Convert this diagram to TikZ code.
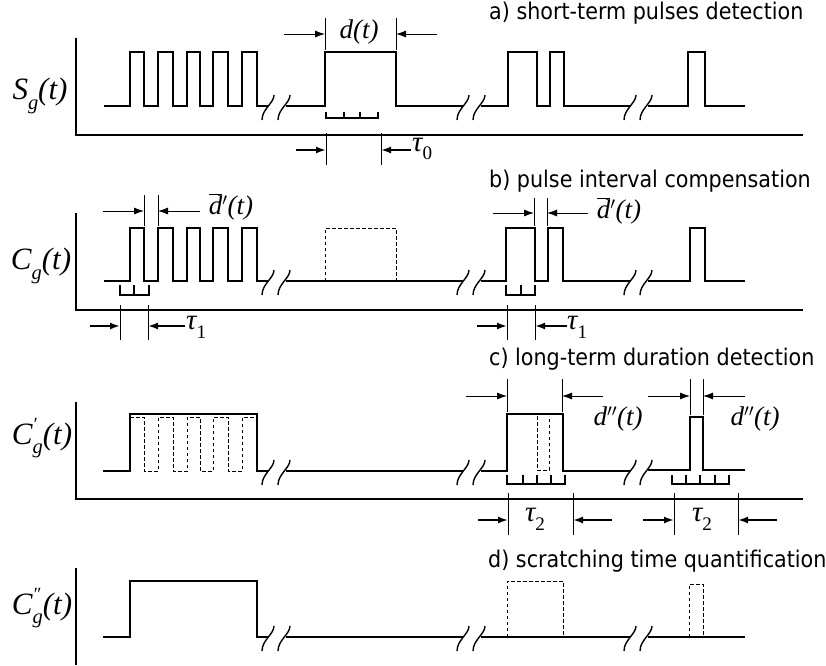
\documentclass[tikz,border=0pt]{standalone}
\usepackage{fontspec}
\newfontfamily\tnr{Liberation Serif}
\newfontfamily\tah{DejaVu Sans Condensed}
\usetikzlibrary{arrows.meta}
\newcommand\lowsub[1]{\raisebox{-0.3em}{\scalebox{0.66}{#1}}}
\newcommand\hisup[1]{\rlap{\raisebox{0.45em}{\scalebox{0.6}{#1}}}}
\newcommand\dbar{$\overline{\mbox{d}}$}
\begin{document}
\begin{tikzpicture}[x=1pt,y=-1pt,
 sig/.style={line width=1.8pt, line join=miter},
 ax/.style={line width=1.2pt},
 dsh/.style={line width=0.9pt, dash pattern=on 3.5pt off 2.5pt},
 comb/.style={line width=1.5pt},
 dimv/.style={line width=0.9pt},
 dimA/.style={line width=0.9pt, -{Latex[length=10pt,width=7pt]}},
 dimB/.style={line width=1.8pt, -{Latex[length=10pt,width=7pt]}},
 title/.style={font=\tah\fontsize{23}{23}\selectfont, anchor=base west, inner sep=0pt},
 ylab/.style={font=\tnr\itshape\fontsize{31}{31}\selectfont, inner sep=0pt},
 dlab/.style={font=\tnr\itshape\fontsize{27}{27}\selectfont, inner sep=0pt},
 tlab/.style={font=\tnr\itshape\fontsize{29}{29}\selectfont, inner sep=0pt, anchor=west},
 brk/.pic={\draw[line width=1.4pt] (12,-11) .. controls (12,-3) and (0,3) .. (0,14);
           \draw[line width=1.4pt] (28,-11) .. controls (28,-3) and (16,3) .. (16,14);}
]
\useasboundingbox (0,0) rectangle (826,665);

% ---------------- panel a
\draw[ax] (76,38) -- (76,135) -- (803,135);
\node[ylab] (la) at (40,96) {S\lowsub{g}(t)};
\node[title] (ta) at (489,19) {a) short-term pulses detection};
\draw[sig] (104,106) -| (130,52) -| (144,106) -| (158,52) -| (173,106) -| (187,52) -| (200,106) -| (213,52) -| (228,106) -| (242,52) -| (257,106) -- (268,106);
\draw[sig] (286,106) -| (325,52) -| (396,106) -- (463,106);
\draw[sig] (481,106) -| (508,52) -| (537,106) -| (550,52) -| (564,106) -- (630,106);
\draw[sig] (648,106) -| (688,52) -| (705,106) -- (745,106);
\pic at (262,106) {brk};
\pic at (457,106) {brk};
\pic at (624,106) {brk};
\draw[comb] (326,112) -- (326,118) -- (378,118) -- (378,112) (344,112) -- (344,118) (360,112) -- (360,118);
% d(t)
\draw[dimv] (325,18) -- (325,50) (396,18) -- (396,50);
\coordinate (a1) at (284,34); \coordinate (a2) at (325,34);
\coordinate (a3) at (437,34); \coordinate (a4) at (396,34);
\draw[dimA] (a1) -- (a2);
\draw[dimA] (a3) -- (a4);
\node[dlab] (dlab) at (359,32) {d(t)};
% tau0
\draw[dimv] (326,133) -- (326,165) (381,133) -- (381,165);
\coordinate (b1) at (296,150); \coordinate (b2) at (326,150);
\coordinate (b3) at (411,150); \coordinate (b4) at (381,150);
\draw[dimB] (b1) -- (b2);
\draw[dimB] (b3) -- (b4);
\node[tlab] (t0) at (412,149) {τ\lowsub{\upshape 0}};

% ---------------- panel b
\draw[ax] (76,213) -- (76,310) -- (803,310);
\node[ylab] (lb) at (41,266) {C\lowsub{g}(t)};
\node[title] (tb) at (489,187) {b) pulse interval compensation};
\draw[sig] (104,281) -| (130,228) -| (144,281) -| (158,228) -| (173,281) -| (187,228) -| (200,281) -| (213,228) -| (228,281) -| (242,228) -| (257,281) -- (268,281);
\draw[sig] (286,281) -- (463,281);
\draw[dsh] (325,281) |- (396,228) -- (396,281);
\draw[sig] (481,281) -| (506,228) -| (535,281) -| (548,228) -| (563,281) -- (630,281);
\draw[sig] (648,281) -| (690,228) -| (705,281) -- (745,281);
\pic at (262,281) {brk};
\pic at (457,281) {brk};
\pic at (624,281) {brk};
\draw[comb] (120,285) -- (120,295) -- (149,295) -- (149,285) (134,285) -- (134,295);
\draw[comb] (506,285) -- (506,295) -- (535,295) -- (535,285) (521,285) -- (521,295);
% d-bar' left
\draw[dimv] (144,195) -- (144,226) (158,195) -- (158,226);
\coordinate (c1) at (103,211); \coordinate (c2) at (144,211);
\coordinate (c3) at (200,211); \coordinate (c4) at (158,211);
\draw[dimA] (c1) -- (c2);
\draw[dimA] (c3) -- (c4);
\node[dlab] (db1) at (231,207) {\dbar$'$(t)};
% d-bar' right
\draw[dimv] (534,198) -- (534,226) (547,198) -- (547,226);
\coordinate (c5) at (493,213); \coordinate (c6) at (534,213);
\coordinate (c7) at (588,213); \coordinate (c8) at (547,213);
\draw[dimA] (c5) -- (c6);
\draw[dimA] (c7) -- (c8);
\node[dlab] (db2) at (619,211) {\dbar$'$(t)};
% tau1 left
\draw[dimv] (120,305) -- (120,340) (148,305) -- (148,340);
\coordinate (e1) at (90,326); \coordinate (e2) at (120,326);
\coordinate (e3) at (185,326); \coordinate (e4) at (148,326);
\draw[dimB] (e1) -- (e2);
\draw[dimB] (e3) -- (e4);
\node[tlab] (t1a) at (186,327) {τ\lowsub{\upshape 1}};
% tau1 right
\draw[dimv] (507,305) -- (507,340) (535,305) -- (535,340);
\coordinate (e5) at (477,326); \coordinate (e6) at (507,326);
\coordinate (e7) at (567,326); \coordinate (e8) at (535,326);
\draw[dimB] (e5) -- (e6);
\draw[dimB] (e7) -- (e8);
\node[tlab] (t1b) at (567,327) {τ\lowsub{\upshape 1}};

% ---------------- panel c
\draw[ax] (76,402) -- (76,499) -- (803,499);
\node[ylab] (lc) at (42,438) {C\hisup{′}\lowsub{g}(t)};
\node[title] (tc) at (489,365) {c) long-term duration detection};
\draw[sig] (103,471) -| (130,414) -| (257,471) -- (268,471);
\draw[dsh] (130,417) -| (144,471) -| (158,417) -| (173,471) -| (187,417) -| (200,471) -| (213,417) -| (228,471) -| (242,417) -- (257,417);
\draw[sig] (286,471) -- (463,471);
\draw[sig] (481,471) -| (507,414) -| (563,471) -- (630,471);
\draw[dsh] (537,416) |- (549,470) -- (549,416);
\draw[sig] (648,470) -| (690,417) -| (703,470) -- (745,470);
\pic at (262,471) {brk};
\pic at (457,471) {brk};
\pic at (624,471) {brk};
\draw[comb] (507,475) -- (507,484) -- (565,484) -- (565,475) (523,475) -- (523,484) (537,475) -- (537,484) (551,475) -- (551,484);
\draw[comb] (672,475) -- (672,484) -- (729,484) -- (729,475) (686,475) -- (686,484) (700,475) -- (700,484) (715,475) -- (715,484);
% d'' first
\draw[dimv] (507,379) -- (507,412) (562,379) -- (562,412);
\coordinate (f1) at (466,396); \coordinate (f2) at (507,396);
\coordinate (f3) at (603,396); \coordinate (f4) at (562,396);
\draw[dimA] (f1) -- (f2);
\draw[dimA] (f3) -- (f4);
\node[dlab] (dd1) at (618,419) {d$''$(t)};
% d'' second
\draw[dimv] (690,379) -- (690,415) (703,379) -- (703,415);
\coordinate (f5) at (648,396); \coordinate (f6) at (690,396);
\coordinate (f7) at (745,396); \coordinate (f8) at (703,396);
\draw[dimA] (f5) -- (f6);
\draw[dimA] (f7) -- (f8);
\node[dlab] (dd2) at (755,419) {d$''$(t)};
% tau2
\draw[dimv] (508,493) -- (508,535) (573,493) -- (573,535);
\coordinate (g1) at (478,520); \coordinate (g2) at (508,520);
\coordinate (g3) at (612,520); \coordinate (g4) at (573,520);
\draw[dimB] (g1) -- (g2);
\draw[dimB] (g3) -- (g4);
\node[tlab,anchor=center] (t2a) at (535,519) {τ\lowsub{\upshape 2}};
\draw[dimv] (674,493) -- (674,535) (738,493) -- (738,535);
\coordinate (g5) at (643,520); \coordinate (g6) at (674,520);
\coordinate (g7) at (777,520); \coordinate (g8) at (738,520);
\draw[dimB] (g5) -- (g6);
\draw[dimB] (g7) -- (g8);
\node[tlab,anchor=center] (t2b) at (702,519) {τ\lowsub{\upshape 2}};

% ---------------- panel d
\draw[ax] (76,568) -- (76,665);
\node[ylab] (ld) at (42,608) {C\hisup{″}\lowsub{g}(t)};
\node[title] (td) at (488,567) {d) scratching time quantification};
\draw[sig] (103,637) -| (130,581) -| (257,637) -- (268,637);
\draw[sig] (286,637) -- (463,637) (481,637) -- (630,637) (648,637) -- (745,637);
\draw[dsh] (507,637) |- (563,581) -- (563,637);
\draw[dsh] (689,637) |- (703,584) -- (703,637);
\pic at (262,637) {brk};
\pic at (457,637) {brk};
\pic at (624,637) {brk};
\end{tikzpicture}
\end{document}
